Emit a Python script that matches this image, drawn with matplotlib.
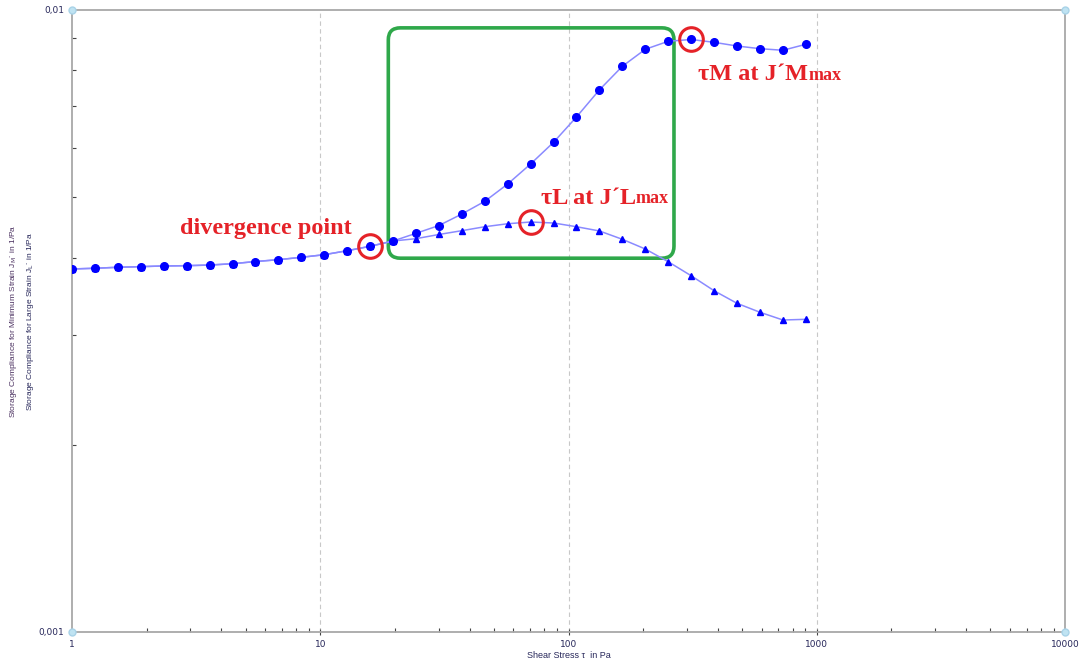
import matplotlib
matplotlib.use("Agg")
import matplotlib.pyplot as plt
from matplotlib.patches import FancyBboxPatch
from matplotlib.ticker import LogLocator, NullFormatter

# shear stress steps (Pa)
tau = [1.0, 1.237, 1.53, 1.893, 2.341, 2.896, 3.583, 4.432, 5.483, 6.782,
       8.39, 10.38, 12.84, 15.88, 19.65, 24.3, 30.06, 37.19, 46.0, 56.9,
       70.4, 87.1, 107.7, 133.3, 164.8, 203.9, 252.2, 312.0, 386.0, 477.5,
       590.7, 730.7, 903.9]

# storage compliance for minimum strain J'M (1/Pa)
j_min = [0.003834, 0.003844, 0.003858, 0.003867, 0.003877, 0.003881, 0.00389,
         0.003909, 0.003941, 0.003968, 0.004003, 0.004042, 0.004102, 0.00417,
         0.004252, 0.004375, 0.004503, 0.004699, 0.004925, 0.005251, 0.005656,
         0.006129, 0.00673, 0.007443, 0.008119, 0.008647, 0.008906, 0.008966,
         0.008872, 0.008752, 0.008666, 0.008615, 0.008808]

# storage compliance for large strain J'L (1/Pa)
j_large = [0.003834, 0.003844, 0.003858, 0.003867, 0.003877, 0.003881, 0.00389,
           0.003909, 0.003941, 0.003968, 0.004003, 0.004042, 0.004102, 0.00417,
           0.004252, 0.004289, 0.004356, 0.004418, 0.004483, 0.004533, 0.004562,
           0.004545, 0.004483, 0.004413, 0.004279, 0.004128, 0.003938, 0.003739,
           0.003537, 0.003376, 0.003266, 0.003174, 0.003182]

x_ticks = [1, 10, 100, 1000, 10000]
x_tick_labels = ["1", "10", "100", "1000", "10000"]
y_ticks = [0.001, 0.01]
y_tick_labels = ["0,001", "0,01"]

i_div = 13     # divergence point
i_lmax = 20    # max of J'L
i_mmax = 27    # max of J'M

# highlighted window (tau range, J range)
box_tau = [18.8, 266.0]
box_j = [0.00399, 0.00936]

RED = "#e52228"
BLUE = "#0000ff"
LINE = "#8a8aff"
LABEL = "#27275a"

fig = plt.figure(figsize=(10.83, 6.64), dpi=100)
ax = fig.add_axes([72 / 1083, 32 / 664, 993 / 1083, 622 / 664])

ax.set_xscale("log")
ax.set_yscale("log")
ax.set_xlim(1, 10000)
ax.set_ylim(0.001, 0.01)

for s in ax.spines.values():
    s.set_color("#a8a8a8")
    s.set_linewidth(1.3)

ax.set_xticks(x_ticks)
ax.set_xticklabels(x_tick_labels)
ax.set_yticks(y_ticks)
ax.set_yticklabels(y_tick_labels)
ax.xaxis.set_minor_locator(LogLocator(base=10, subs=range(2, 10)))
ax.yaxis.set_minor_locator(LogLocator(base=10, subs=range(2, 10)))
ax.xaxis.set_minor_formatter(NullFormatter())
ax.yaxis.set_minor_formatter(NullFormatter())
ax.tick_params(which="major", direction="inout", length=5, width=0.8,
               color="#444444", labelsize=6.5, labelcolor=LABEL, pad=3)
ax.tick_params(which="minor", direction="in", length=3, width=0.8,
               color="#444444")

for xv in x_ticks[1:-1]:
    ax.axvline(xv, color="#c8c8c8", lw=0.8, ls=(0, (4, 3)), zorder=0)

# corner markers
for cx, cy in [(0, 0), (0, 1), (1, 0), (1, 1)]:
    ax.plot(cx, cy, "o", ms=5, mfc="#bfe3f2", mec="#a9d3e8",
            transform=ax.transAxes, clip_on=False, zorder=5)

# green window
to_axes = ax.transData + ax.transAxes.inverted()
(bx0, by0), (bx1, by1) = to_axes.transform([(box_tau[0], box_j[0]),
                                            (box_tau[1], box_j[1])])
box = FancyBboxPatch((bx0, by0), bx1 - bx0, by1 - by0,
                     boxstyle="round,pad=0,rounding_size=%f" % (12 / 993),
                     mutation_aspect=993 / 622, transform=ax.transAxes,
                     fill=False, ec="#2fa84a", lw=2.6, zorder=1)
ax.add_patch(box)

ax.plot(tau, j_large, color=LINE, lw=1.1, marker="^", ms=5,
        mfc=BLUE, mec=BLUE, zorder=2)
ax.plot(tau, j_min, color=LINE, lw=1.1, marker="o", ms=5.5,
        mfc=BLUE, mec=BLUE, zorder=3)

# red rings
for xs, ys in [(tau[i_div], j_min[i_div]), (tau[i_lmax], j_large[i_lmax]),
               (tau[i_mmax], j_min[i_mmax])]:
    ax.plot(xs, ys, "o", ms=17, mfc="none", mec=RED, mew=2.2, zorder=4)

font = dict(family="Liberation Serif", weight="bold", color=RED)

ax.annotate("divergence point", xy=(tau[i_div], j_min[i_div]),
            xytext=(-18, 18), textcoords="offset pixels",
            ha="right", va="center", fontsize=17.5, **font)

t_l = ax.annotate("τL at J´L", xy=(tau[i_lmax], j_large[i_lmax]),
                  xytext=(10, 24), textcoords="offset pixels",
                  ha="left", va="center", fontsize=17.5, **font)
ax.annotate("max", xy=(1, 0.06), xycoords=t_l, ha="left", va="bottom",
            fontsize=13, **font)

t_m = ax.annotate("τM at J´M", xy=(tau[i_mmax], j_min[i_mmax]),
                  xytext=(7, -35), textcoords="offset pixels",
                  ha="left", va="center", fontsize=17.5, **font)
ax.annotate("max", xy=(1, 0.06), xycoords=t_m, ha="left", va="bottom",
            fontsize=13, **font)

ax.set_xlabel("Shear Stress τ  in Pa", fontsize=6.5, color=LABEL,
              family="Liberation Sans", labelpad=2)

y_mid = (32 + 311) / 664
fig.text(14 / 1083, y_mid, "Storage Compliance for Minimum Strain J$_\\mathrm{M}$´ in 1/Pa",
         rotation=90, ha="center", va="center", fontsize=6,
         color="#4a3060", family="Liberation Sans")
fig.text(31 / 1083, y_mid, "Storage Compliance for Large Strain J$_\\mathrm{L}$´ in 1/Pa",
         rotation=90, ha="center", va="center", fontsize=6,
         color=LABEL, family="Liberation Sans")

plt.savefig("out.png", dpi=100)
